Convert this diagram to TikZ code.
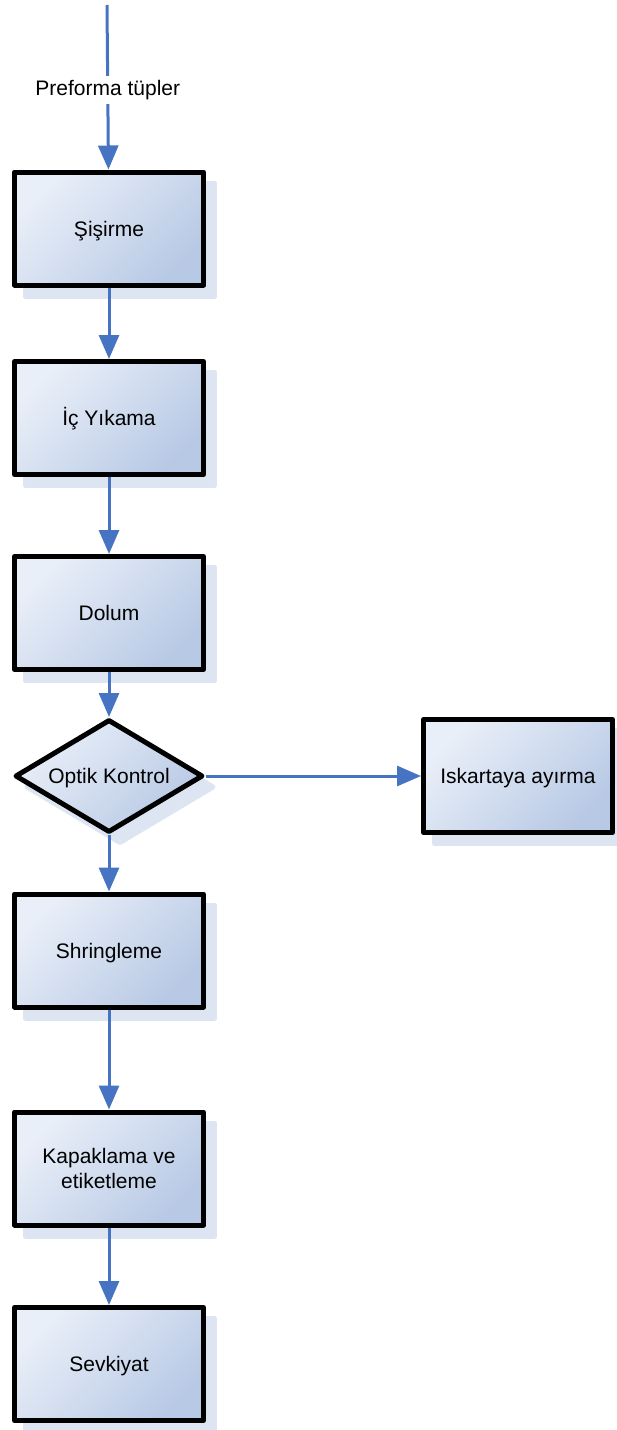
\documentclass[tikz,border=0pt]{standalone}
\usepackage{fontspec}
\setmainfont{Liberation Sans}
\usetikzlibrary{arrows.meta,shapes.geometric,shadows}
\definecolor{flowblue}{RGB}{70,116,194}
\definecolor{boxlight}{RGB}{233,239,248}
\definecolor{boxdark}{RGB}{184,201,229}
\definecolor{shadowc}{RGB}{221,229,242}
\begin{document}
\begin{tikzpicture}[x=1pt,y=1pt,
  font=\fontsize{21}{25}\selectfont,
  boxshadow/.style={drop shadow={shadow xshift=11pt, shadow yshift=-11pt,
      fill=shadowc, draw=shadowc, line width=5pt, opacity=1}},
  oneline/.style={text height=15pt, text depth=0pt},
  stepbox/.style={rectangle, draw=black, line width=5pt, line join=round,
      minimum width=189pt, minimum height=113pt, inner sep=0pt,
      top color=boxlight, bottom color=boxdark, shading angle=45,
      boxshadow, align=center},
  decision/.style={diamond, draw=black, line width=5pt, line join=round,
      aspect=1.7, minimum width=188pt, minimum height=113pt, inner sep=0pt,
      top color=boxlight, bottom color=boxdark, shading angle=45,
      boxshadow, oneline},
  flow/.style={draw=flowblue, line width=3pt,
      -{Triangle[width=20pt,length=24pt]}}
]
\useasboundingbox (0,0) rectangle (617,-1430);

% process steps
\node[stepbox, oneline] (sis) at (109,-228.5) {Şişirme};
\node[stepbox, oneline] (ic)  at (109,-418)   {İç Yıkama};
\node[stepbox, oneline] (dol) at (109,-613)   {Dolum};
\node[decision] (opt) at (109,-776)  {Optik Kontrol};
\node[stepbox, oneline] (isk) at (518,-776)   {Iskartaya ayırma};
\node[stepbox, oneline] (shr) at (109,-950.5) {Shringleme};
\node[stepbox] (kap) at (109,-1168.5) {Kapaklama ve\\etiketleme};
\node[stepbox, oneline] (sev) at (109,-1364)  {Sevkiyat};

% incoming material
\coordinate (in) at (107,-5);

% connectors
\draw[flow] (in) -- node[pos=0.515, fill=white, inner xsep=2pt, inner ysep=4pt] {Preforma tüpler} (sis);
\draw[flow] (sis) -- (ic);
\draw[flow] (ic) -- (dol);
\draw[flow] (dol) -- (opt);
\draw[flow] (opt) -- (shr);
\draw[flow] (opt.east) -- (isk.west);
\draw[flow] (shr) -- (kap);
\draw[flow] (kap) -- (sev);
\end{tikzpicture}
\end{document}
